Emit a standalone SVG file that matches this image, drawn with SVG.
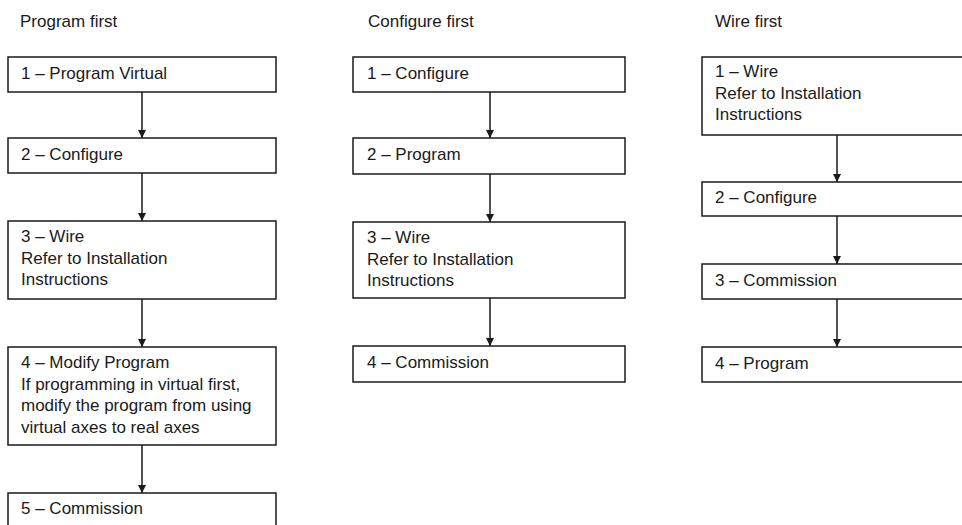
<svg xmlns="http://www.w3.org/2000/svg" width="962" height="525" viewBox="0 0 962 525">
<defs>
<style>
text{font-family:"Liberation Sans",Arial,sans-serif;font-size:17px;fill:#1a1a1a}
.box{fill:#fff;stroke:#1a1a1a;stroke-width:1.5}
.conn line{stroke:#1a1a1a;stroke-width:1.5}
</style>
<marker id="ah" viewBox="0 0 10 10" refX="10" refY="5" markerWidth="9" markerHeight="8" markerUnits="userSpaceOnUse" orient="auto"><path d="M0,0 L10,5 L0,10 z" fill="#1a1a1a"/></marker>
</defs>
<rect width="962" height="525" fill="#fff"/>
<text x="20" y="27">Program first</text>
<text x="368" y="27">Configure first</text>
<text x="715" y="27">Wire first</text>

<g id="p1"><rect class="box" x="8" y="57" width="268" height="35"/><text x="21" y="79">1 – Program Virtual</text></g>
<g id="p2"><rect class="box" x="8" y="138" width="268" height="35"/><text x="21" y="160">2 – Configure</text></g>
<g id="p3"><rect class="box" x="8" y="221" width="268" height="78"/><text x="21" y="242">3 – Wire<tspan x="21" dy="21.5">Refer to Installation</tspan><tspan x="21" dy="21.5">Instructions</tspan></text></g>
<g id="p4"><rect class="box" x="8" y="347" width="268" height="98"/><text x="21" y="368">4 – Modify Program<tspan x="21" dy="21.5">If programming in virtual first,</tspan><tspan x="21" dy="21.5">modify the program from using</tspan><tspan x="21" dy="21.5">virtual axes to real axes</tspan></text></g>
<g id="p5"><rect class="box" x="8" y="493" width="268" height="45"/><text x="21" y="514">5 – Commission</text></g>

<g id="c1"><rect class="box" x="353" y="57" width="272" height="35"/><text x="367" y="79">1 – Configure</text></g>
<g id="c2"><rect class="box" x="353" y="138" width="272" height="36"/><text x="367" y="160">2 – Program</text></g>
<g id="c3"><rect class="box" x="353" y="222" width="272" height="76"/><text x="367" y="243">3 – Wire<tspan x="367" dy="21.5">Refer to Installation</tspan><tspan x="367" dy="21.5">Instructions</tspan></text></g>
<g id="c4"><rect class="box" x="353" y="346" width="272" height="36"/><text x="367" y="368">4 – Commission</text></g>

<g id="w1"><rect class="box" x="702" y="57" width="280" height="78"/><text x="715" y="77">1 – Wire<tspan x="715" dy="21.5">Refer to Installation</tspan><tspan x="715" dy="21.5">Instructions</tspan></text></g>
<g id="w2"><rect class="box" x="702" y="182" width="280" height="34"/><text x="715" y="203">2 – Configure</text></g>
<g id="w3"><rect class="box" x="702" y="264" width="280" height="35"/><text x="715" y="286">3 – Commission</text></g>
<g id="w4"><rect class="box" x="702" y="347" width="280" height="35"/><text x="715" y="369">4 – Program</text></g>

<g class="conn" id="connectors">
<line x1="142" y1="92" x2="142" y2="138" marker-end="url(#ah)"/>
<line x1="142" y1="173" x2="142" y2="221" marker-end="url(#ah)"/>
<line x1="142" y1="299" x2="142" y2="347" marker-end="url(#ah)"/>
<line x1="142" y1="445" x2="142" y2="493" marker-end="url(#ah)"/>
<line x1="490" y1="92" x2="490" y2="138" marker-end="url(#ah)"/>
<line x1="490" y1="174" x2="490" y2="222" marker-end="url(#ah)"/>
<line x1="490" y1="298" x2="490" y2="346" marker-end="url(#ah)"/>
<line x1="837" y1="135" x2="837" y2="182" marker-end="url(#ah)"/>
<line x1="837" y1="216" x2="837" y2="264" marker-end="url(#ah)"/>
<line x1="837" y1="299" x2="837" y2="347" marker-end="url(#ah)"/>
</g>
</svg>
